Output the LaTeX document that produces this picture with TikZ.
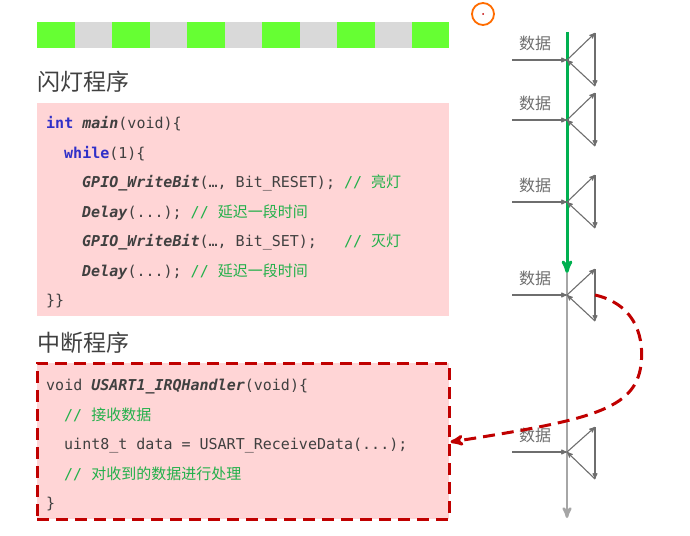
\documentclass[tikz,border=0pt]{standalone}
\usepackage{fontspec}
\setmainfont{Noto Sans CJK SC}
\setmonofont{DejaVu Sans Mono}
\newfontfamily\cjk{Noto Sans CJK SC}
\usetikzlibrary{positioning,arrows,calc}

\definecolor{ledgreen}{HTML}{66FF33}
\definecolor{ledgray}{HTML}{D9D9D9}
\definecolor{boxpink}{HTML}{FFD5D6}
\definecolor{irqred}{HTML}{C00000}
\definecolor{mainline}{HTML}{00B050}
\definecolor{txtgray}{HTML}{404040}
\definecolor{kwblue}{HTML}{3030C8}
\definecolor{cmtgreen}{HTML}{22B04A}
\definecolor{arrgray}{HTML}{6E6E6E}

\tikzstyle{code}=[anchor=base west,inner sep=0pt,text=txtgray,font=\fontsize{15}{17}\selectfont\ttfamily]
\tikzstyle{title}=[anchor=west,inner sep=0pt,text=txtgray,font=\fontsize{23}{25}\selectfont\cjk]
\tikzstyle{data}=[inner sep=0pt,text=arrgray,font=\fontsize{16}{18}\selectfont\cjk]
\tikzstyle{evt}=[->,arrgray,line width=1.1pt]

\newcommand{\kw}[1]{\textcolor{kwblue}{\bfseries #1}}
\newcommand{\fn}[1]{\textbf{\textit{#1}}}
\newcommand{\cmt}[1]{\textcolor{cmtgreen}{//~{\cjk #1}}}

\begin{document}
\begin{tikzpicture}[x=1pt,y=-1pt,>=stealth']
      \useasboundingbox (0,0) rectangle (690,535);

      % LED bar
      \fill [ledgray] (37,22) rectangle (449,48);
      \fill [ledgreen] (37,22) rectangle (74.5,48);
      \fill [ledgreen] (112,22) rectangle (149.5,48);
      \fill [ledgreen] (187,22) rectangle (224.5,48);
      \fill [ledgreen] (262,22) rectangle (299.5,48);
      \fill [ledgreen] (337,22) rectangle (374.5,48);
      \fill [ledgreen] (412,22) rectangle (449,48);

      % blink program
      \node [title] (blinktitle) at (37,82) {闪灯程序};
      \fill [boxpink] (37,103) rectangle (449,316);
      \node [code] (l1) at (46,128) {\kw{int} \fn{main}(void)\{};
      \node [code] (l2) at (64,158) {\kw{while}(1)\{};
      \node [code] (l3) at (82,187) {\fn{GPIO\_WriteBit}(…, Bit\_RESET); \cmt{亮灯}};
      \node [code] (l4) at (82,217) {\fn{Delay}(...); \cmt{延迟一段时间}};
      \node [code] (l5) at (82,246) {\fn{GPIO\_WriteBit}(…, Bit\_SET);~~~\cmt{灭灯}};
      \node [code] (l6) at (82,276) {\fn{Delay}(...); \cmt{延迟一段时间}};
      \node [code] (l7) at (46,305) {\}\}};

      % interrupt program
      \node [title] (irqtitle) at (37,343) {中断程序};
      \node [draw=irqred,fill=boxpink,line width=3pt,dash pattern=on 12pt off 7pt,
             minimum width=412pt,minimum height=156pt,inner sep=0pt]
             (irqbox) at (243,441) {};
      \node [code] (m1) at (46,390) {void \fn{USART1\_IRQHandler}(void)\{};
      \node [code] (m2) at (64,420) {\cmt{接收数据}};
      \node [code] (m3) at (64,449) {uint8\_t data = USART\_ReceiveData(...);};
      \node [code] (m4) at (64,479) {\cmt{对收到的数据进行处理}};
      \node [code] (m5) at (46,508) {\}};

      % time line
      \coordinate (top) at (567,32);
      \coordinate (mid) at (567,273);
      \coordinate (bot) at (567,518);
      \draw [->,black!35,line width=2.5pt] (mid) -- (bot);
      \draw [->,mainline,line width=3pt] (top) -- (mid);

      % events
      \coordinate (e1) at (567,60);  \coordinate (e1t) at (595,33);  \coordinate (e1b) at (595,86);
      \coordinate (e2) at (567,120); \coordinate (e2t) at (595,93);  \coordinate (e2b) at (595,146);
      \coordinate (e3) at (567,202); \coordinate (e3t) at (595,175); \coordinate (e3b) at (595,228);
      \coordinate (e4) at (567,295); \coordinate (e4t) at (595,269); \coordinate (e4b) at (595,321);
      \coordinate (e5) at (567,452); \coordinate (e5t) at (595,427); \coordinate (e5b) at (595,479);

      \node [data] (d1) at (535,43) {数据};
      \node [data] (d2) at (535,103) {数据};
      \node [data] (d3) at (535,185) {数据};
      \node [data] (d4) at (535,278) {数据};
      \node [data] (d5) at (535,435) {数据};

      \draw [evt] ($(e1)+(-55,0)$) -- (e1);
      \draw [evt] (e1) -- (e1t);
      \draw [evt] (e1t) -- (e1b);
      \draw [evt] (e1b) -- (e1);
      \draw [evt] ($(e2)+(-55,0)$) -- (e2);
      \draw [evt] (e2) -- (e2t);
      \draw [evt] (e2t) -- (e2b);
      \draw [evt] (e2b) -- (e2);
      \draw [evt] ($(e3)+(-55,0)$) -- (e3);
      \draw [evt] (e3) -- (e3t);
      \draw [evt] (e3t) -- (e3b);
      \draw [evt] (e3b) -- (e3);
      \draw [evt] ($(e4)+(-55,0)$) -- (e4);
      \draw [evt] (e4) -- (e4t);
      \draw [evt] (e4t) -- (e4b);
      \draw [evt] (e4b) -- (e4);
      \draw [evt] ($(e5)+(-55,0)$) -- (e5);
      \draw [evt] (e5) -- (e5t);
      \draw [evt] (e5t) -- (e5b);
      \draw [evt] (e5b) -- (e5);

      % jump to the handler
      \coordinate (jump) at (595,295);
      \draw [->,irqred,line width=3pt,dash pattern=on 12pt off 7pt]
            (jump) .. controls (630,303) and (645,330) .. (641,365)
                   .. controls (635,410) and (590,420) .. (irqbox.east |- 0,442);

      % pointer mark
      \draw [orange!85!red,line width=1.8pt] (483,14) circle (11pt);
      \fill [irqred] (483,14) circle (1pt);

    \end{tikzpicture}
\end{document}
